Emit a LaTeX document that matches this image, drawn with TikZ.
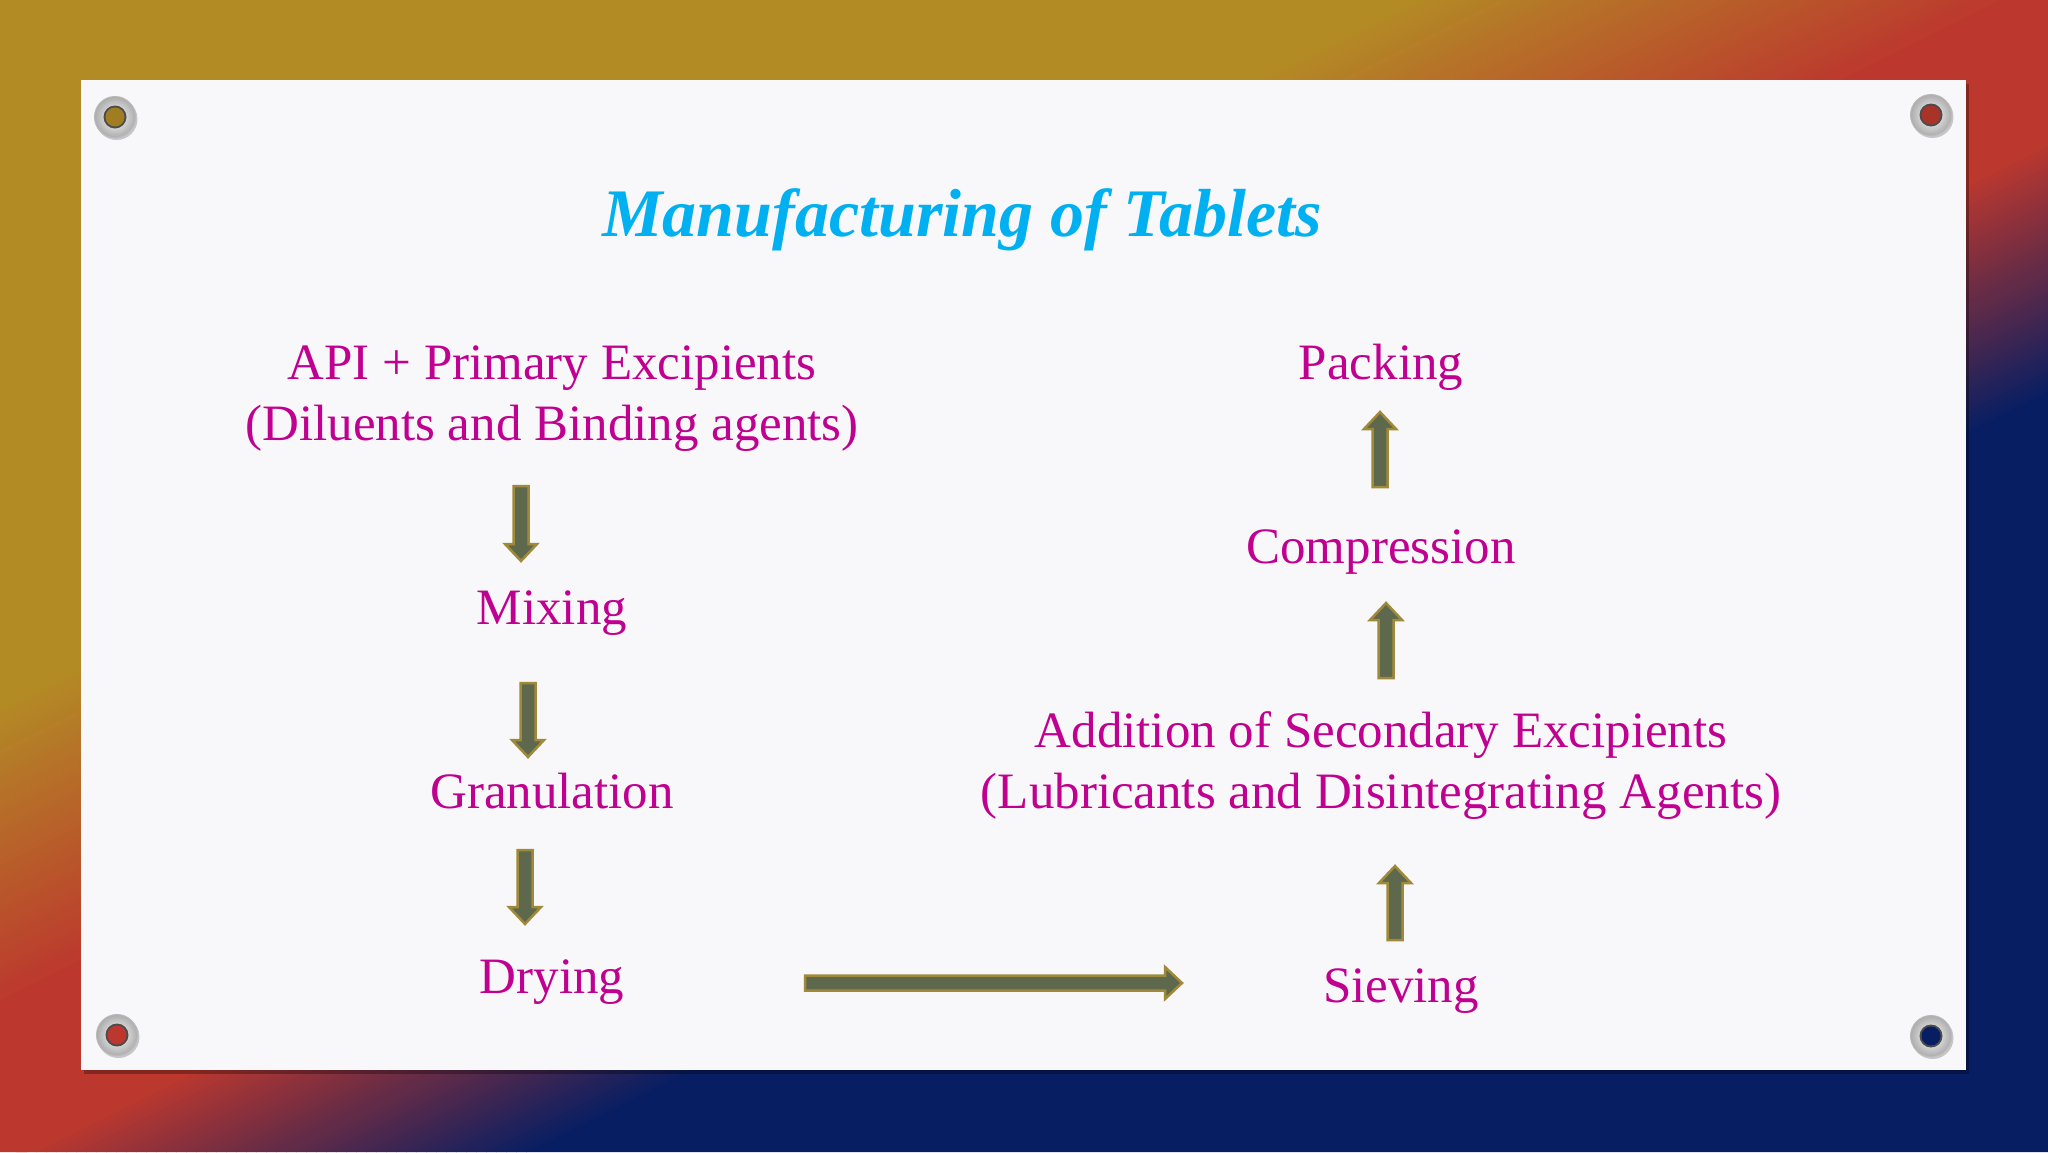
\documentclass[tikz,border=0pt]{standalone}
\usepackage{fontspec}
\setmainfont{Liberation Serif}
\usetikzlibrary{calc}
\definecolor{gold0}{RGB}{179,139,37}
\definecolor{red0}{RGB}{188,56,46}
\definecolor{navy0}{RGB}{8,30,98}
\definecolor{panelc}{RGB}{248,247,249}
\definecolor{titlec}{RGB}{0,176,240}
\definecolor{txt}{RGB}{192,0,144}
\definecolor{arrfill}{RGB}{94,104,76}
\definecolor{arrline}{RGB}{160,138,58}
\tikzset{
  lbl/.style={text=txt, font=\fontsize{51}{61}\selectfont, anchor=base, inner sep=0pt},
  ttl/.style={text=titlec, font=\fontsize{68}{80}\selectfont\bfseries\itshape, anchor=base, inner sep=0pt},
  barrow/.style={draw=arrline, fill=arrfill, line width=2.5pt, line join=miter},
}
\newcommand\blockarr[2]{%
  \path let \p1=(#1), \p2=(#2), \n1={atan2(\y2-\y1,\x2-\x1)}, \n2={veclen(\x2-\x1,\y2-\y1)} in
   [barrow, shift={(\p1)}, rotate=\n1] (0,-7.5) -- ({\n2-17},-7.5) -- ({\n2-17},-16) -- ({\n2},0) -- ({\n2-17},16) -- ({\n2-17},7.5) -- (0,7.5) -- cycle;}
\newcommand\grommet[2]{%
  \fill[black,opacity=.2] ($(#1)+(1.5,2)$) circle (21pt);
  \shade[inner color=white, outer color=gray!65] (#1) circle (20.5pt);
  \draw[gray!55, line width=1pt] (#1) circle (20.5pt);
  \fill[gray!60!black] (#1) circle (11.5pt);
  \fill[#2] (#1) circle (9.5pt);
}
\begin{document}
\begin{tikzpicture}[x=1pt,y=-1pt]
\useasboundingbox (0,0) rectangle (2048,1152);
% background gradient
\begin{scope}
  \clip (0,0) rectangle (2048,1152);
  \fill[gold0] (0,0) rectangle (2048,1152);
  \foreach \c in {1400,1410,...,1990} {
    \pgfmathtruncatemacro\pp{(\c-1400)/6}
    \fill[red0!\pp!gold0] (\c,0) -- (\c+11,0) -- (\c+11-2304,1152) -- (\c-2304,1152) -- cycle;
  }
  \fill[red0] (2000,0) -- (2330,0) -- (2330-2304,1152) -- (2000-2304,1152) -- cycle;
  \foreach \c in {2320,2330,...,2820} {
    \pgfmathtruncatemacro\pp{(\c-2320)/5.1}
    \fill[navy0!\pp!red0] (\c,0) -- (\c+11,0) -- (\c+11-2304,1152) -- (\c-2304,1152) -- cycle;
  }
  \fill[navy0] (2830,0) -- (4400,0) -- (4400,1152) -- (2830-2304,1152) -- cycle;
\end{scope}
% panel
\fill[black,opacity=.3] (84,84) rectangle (1969,1074);
\fill[panelc] (81,80) rectangle (1966,1070);
% grommets
\coordinate (g1) at (115,117);
\coordinate (g2) at (1931,115);
\coordinate (g3) at (117,1035);
\coordinate (g4) at (1931,1036);
\grommet{g1}{gold0!90!black}
\grommet{g2}{red0!90!black}
\grommet{g3}{red0}
\grommet{g4}{navy0}
% title
\node[ttl] (title) at (962,236) {Manufacturing of Tablets};
% labels
\node[lbl] (api1) at (552,379) {API + Primary Excipients};
\node[lbl] (api2) at (552,440) {(Diluents and Binding agents)};
\node[lbl] (mix) at (552,624) {Mixing};
\node[lbl] (gran) at (552,808) {Granulation};
\node[lbl] (dry) at (552,993) {Drying};
\node[lbl] (pack) at (1381,379) {Packing};
\node[lbl] (comp) at (1381,563) {Compression};
\node[lbl] (add1) at (1381,747) {Addition of Secondary Excipients};
\node[lbl] (add2) at (1381,808) {(Lubricants and Disintegrating Agents)};
\node[lbl] (siev) at (1401,1002) {Sieving};
% arrow end points
\coordinate (a1s) at (521,486);  \coordinate (a1e) at (521,561);
\coordinate (a2s) at (528,683);  \coordinate (a2e) at (528,757);
\coordinate (a3s) at (525,850);  \coordinate (a3e) at (525,924);
\coordinate (a4s) at (1380,487); \coordinate (a4e) at (1380,412);
\coordinate (a5s) at (1386,678); \coordinate (a5e) at (1386,603);
\coordinate (a6s) at (1395,940); \coordinate (a6e) at (1395,866);
\coordinate (a7s) at (805,983);  \coordinate (a7e) at (1182,983);
\blockarr{a1s}{a1e}
\blockarr{a2s}{a2e}
\blockarr{a3s}{a3e}
\blockarr{a4s}{a4e}
\blockarr{a5s}{a5e}
\blockarr{a6s}{a6e}
\blockarr{a7s}{a7e}
\end{tikzpicture}
\end{document}
